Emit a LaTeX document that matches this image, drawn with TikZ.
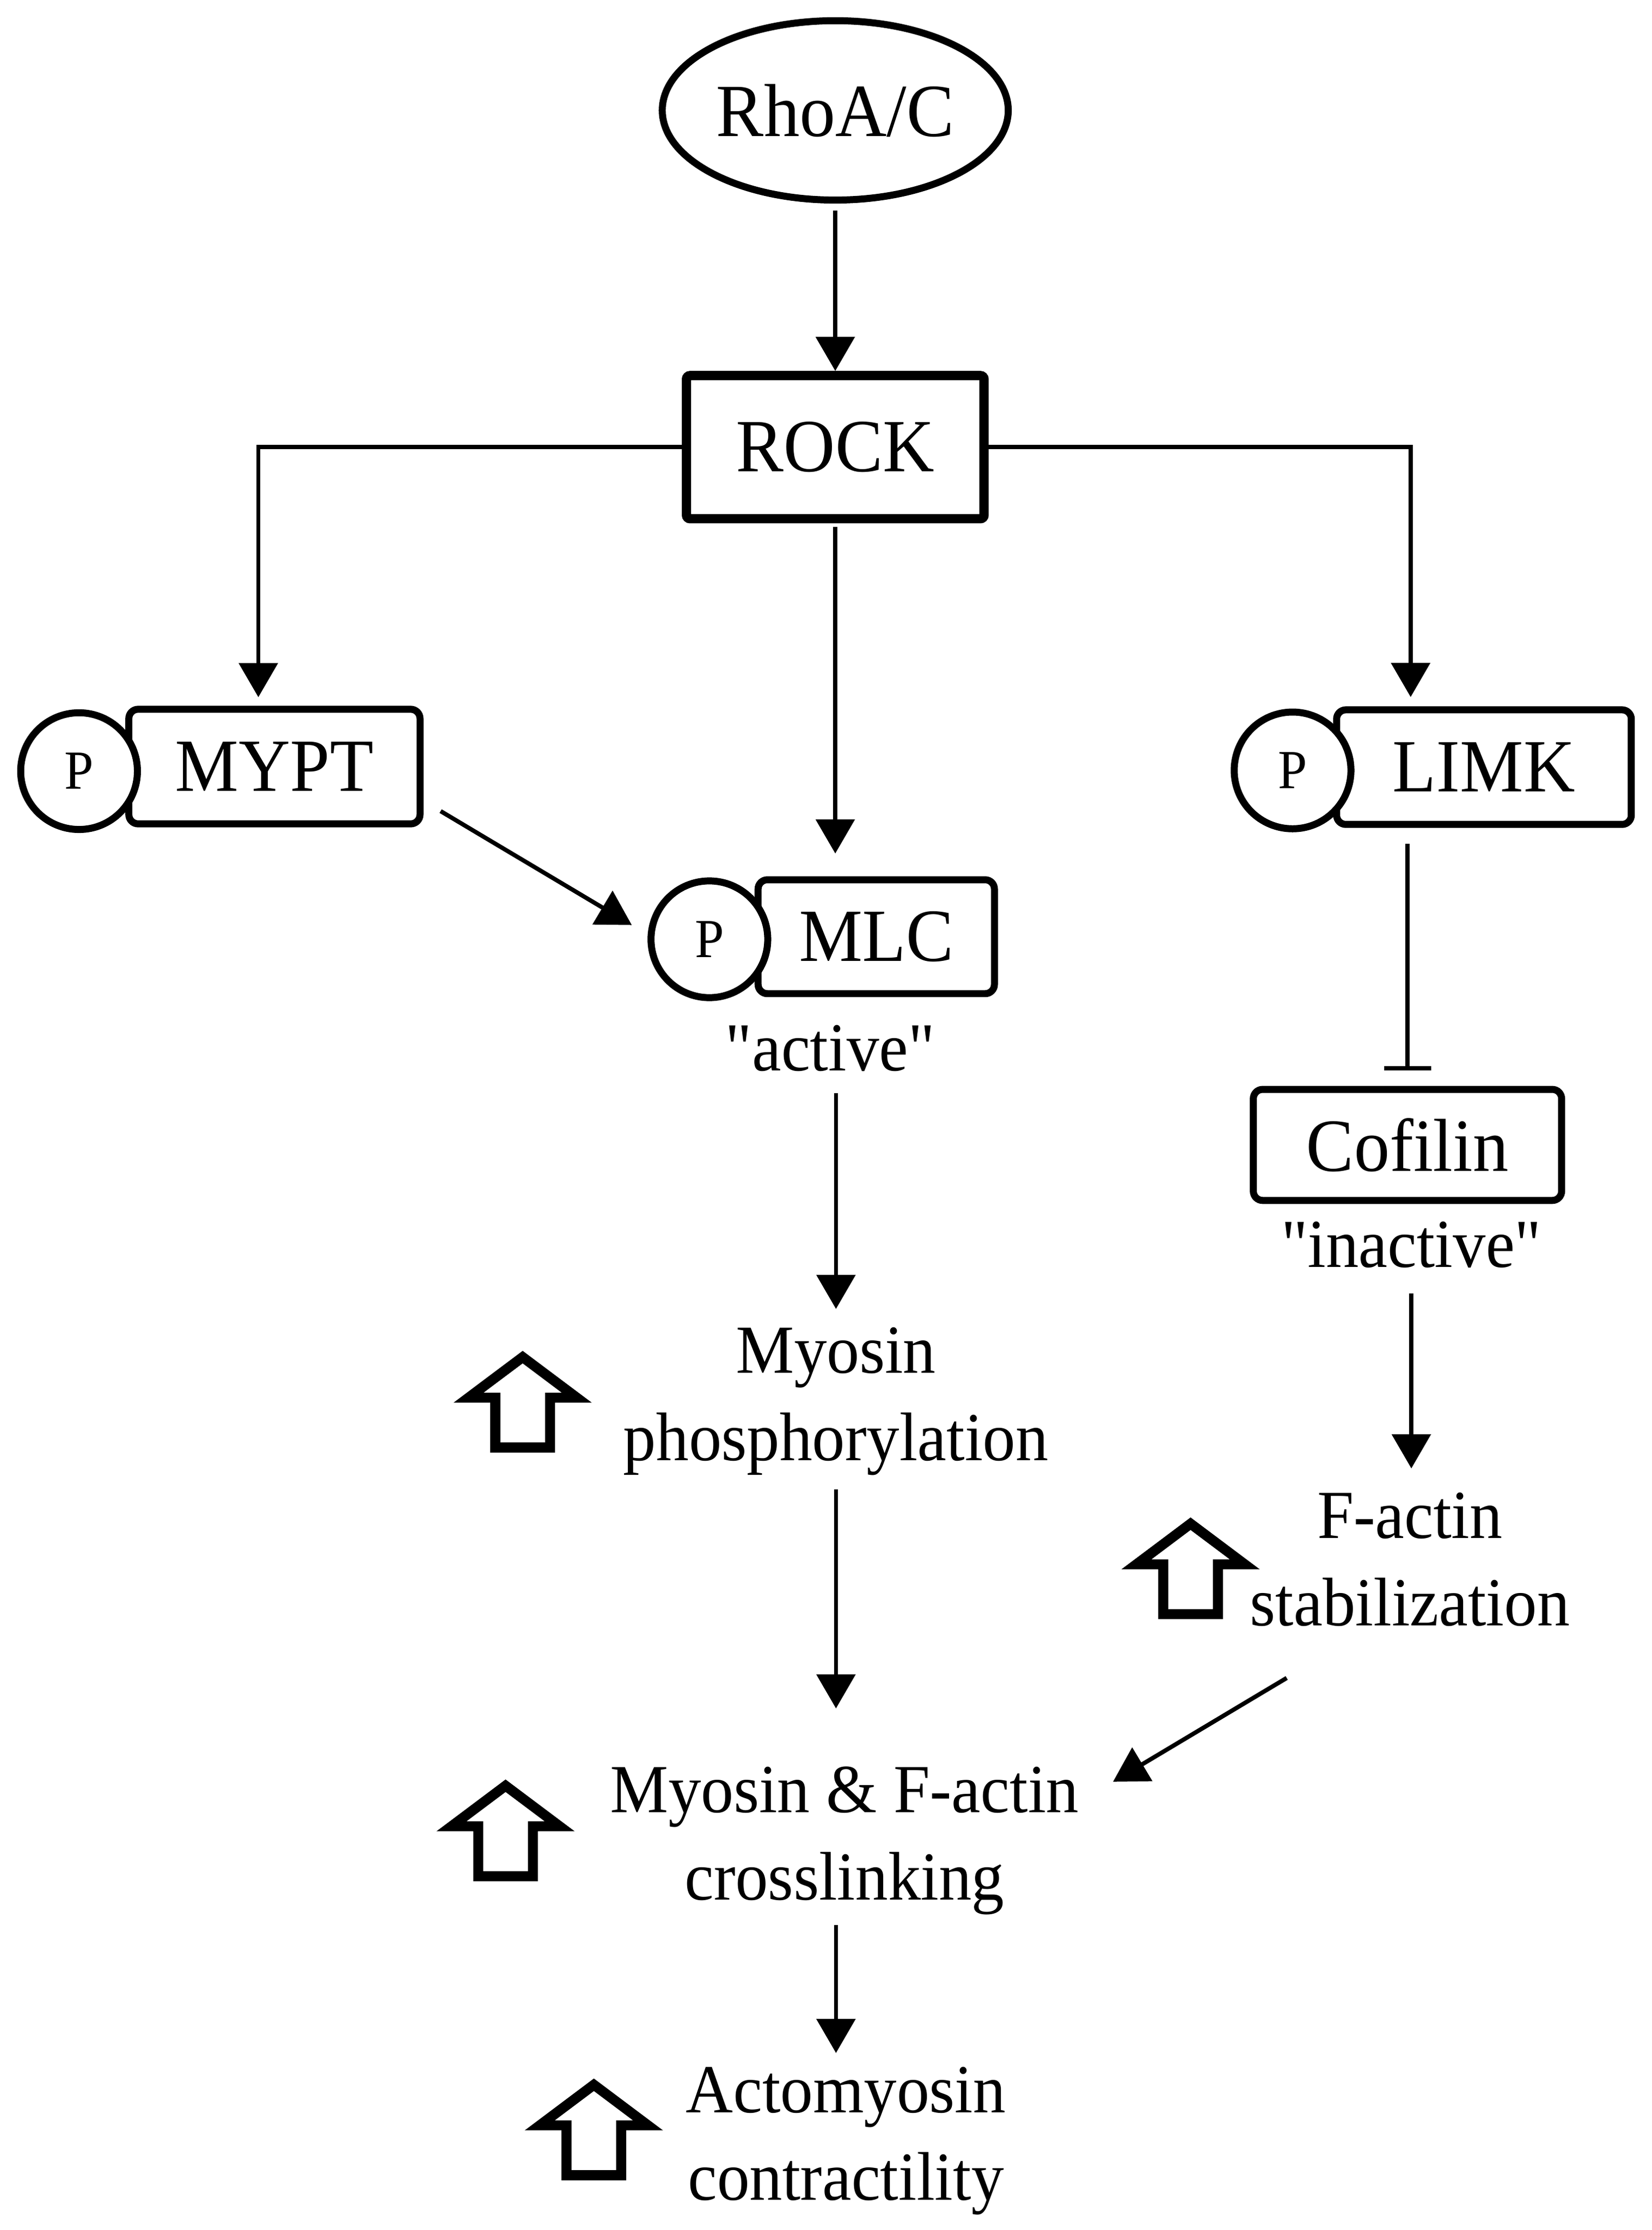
\documentclass[tikz,border=0pt]{standalone}
\usepackage{fontspec}
\setmainfont{Liberation Serif}[FakeStretch=0.95,Ligatures=TeXOff]
\usepackage{tikz}
\usetikzlibrary{arrows.meta,shapes.geometric}
\newcommand\entfont{\fontsize{30}{36}\selectfont}
\newcommand\lblfont{\fontsize{27.5}{35}\selectfont}
\newcommand\phfont{\fontsize{22}{26}\selectfont}

\begin{document}
\begin{tikzpicture}[x=0.02cm,y=-0.02cm,
  ent/.style={draw,line width=2.8pt,rounded corners=0.13cm,inner sep=0,font=\entfont},
  phos/.style={draw,circle,fill=white,line width=2.8pt,minimum size=1.64cm,inner sep=0,font=\phfont},
  lbl/.style={align=center,inner sep=0,font=\lblfont},
  arr/.style={line width=1.7pt,-{Triangle[width=0.54cm,length=0.48cm]}},
  inh/.style={line width=1.7pt,-{Bar[width=0.66cm]}},
  uparr/.style={line width=4pt,line join=miter}]
\useasboundingbox (0,0) rectangle (1160,1566);

 \node[draw,ellipse,line width=2.8pt,minimum width=4.86cm,minimum height=2.52cm,inner sep=0,font=\entfont] (rhoa) at (586.5,77.5) {RhoA/C};
 \node[draw,line width=3.7pt,rounded corners=0.05cm,minimum width=4.18cm,minimum height=2.01cm,inner sep=0,font=\entfont] (rock) at (586.5,314) {ROCK};

 \node[ent,minimum width=4.09cm,minimum height=1.61cm] (mypt) at (192.7,538.3) {MYPT};
 \node[ent,minimum width=4.14cm,minimum height=1.61cm] (limk) at (1042,538.7) {LIMK};
 \node[ent,minimum width=3.32cm,minimum height=1.60cm] (mlc) at (615.3,657.8) {MLC};
 \node[ent,minimum width=4.33cm,minimum height=1.56cm] (cofilin) at (988.3,804) {Cofilin};

 \node[phos] (pmypt) at (55.5,541.5) {P};
 \node[phos] (plimk) at (907.6,541) {P};
 \node[phos] (pmlc) at (498.1,659.6) {P};

 \node[lbl,anchor=base] (act) at (583,752) {"active"};
 \node[lbl,anchor=base] (inact) at (991,890) {"inactive"};
 \node[lbl] (myph) at (587,984) {Myosin\\phosphorylation};
 \node[lbl] (fstab) at (990,1095) {F-actin\\stabilization};
 \node[lbl] (cross) at (593,1292.6) {Myosin \& F-actin\\crosslinking};
 \node[lbl] (contr) at (594,1503.5) {Actomyosin\\contractility};

 \draw[arr,shorten <=0.1cm] (rhoa.south) -- (rock.north);
 \draw[arr,shorten >=0.12cm] (rock.west) -| ([xshift=-0.226cm]mypt.north);
 \draw[arr,shorten >=0.13cm] (rock.east) -| ([xshift=-1.03cm]limk.north);
 \draw[arr,shorten <=0.05cm,shorten >=0.32cm] (rock.south) -- (rock.south |- mlc.north);
 \draw[arr] ([shift={(12,-11.4)}]mypt.south east) -- ([shift={(-11,-10)}]pmlc.west);
 \draw[inh,shorten <=0.225cm,shorten >=0.22cm] (limk.south -| cofilin.north) -- (cofilin.north);
 \draw[arr,shorten <=0.3cm,shorten >=0.25cm] (myph.north |- act.south) -- (myph.north);
 \draw[arr,shorten <=0.35cm,shorten >=0.33cm] (inact.south) -- (inact.south |- fstab.north);
 \draw[arr,shorten <=0.19cm,shorten >=0.81cm] (myph.south) -- (myph.south |- cross.north);
 \draw[arr] ([shift={(26,36)}]fstab.south west) -- ([shift={(23.7,11)}]cross.north east);
 \draw[arr,shorten <=0.14cm,shorten >=0.19cm] (myph.south |- cross.south) -- (myph.south |- contr.north);

\foreach \x/\y in {367/948,836/1065,355/1249,417/1459}
{   \draw[uparr,shift={(\x,\y)}] (0,5) -- (38,33.5) -- (19.2,33.5) -- (19.2,68.5)
        -- (-19.2,68.5) -- (-19.2,33.5) -- (-38,33.5) -- cycle;
}
\end{tikzpicture}
\end{document}
